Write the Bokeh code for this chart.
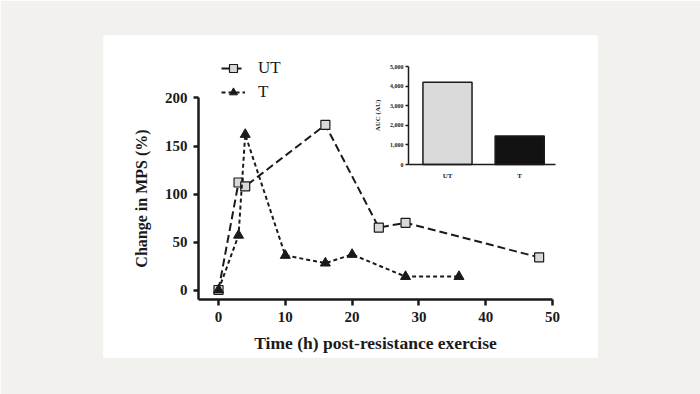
from bokeh.plotting import figure
from bokeh.models import (Range1d, LinearAxis, FixedTicker, NumeralTickFormatter,
                          Legend, LegendItem)
from bokeh.embed import file_html
from bokeh.resources import INLINE

# ---- data ----
ut_time = [0, 3, 4, 16, 24, 28, 48]
ut_mps = [0, 112, 108, 172, 65, 70, 34]
t_time = [0, 3, 4, 10, 16, 20, 28, 36]
t_mps = [0, 57, 162, 36, 28, 37, 14, 14]
auc_groups = ["UT", "T"]
auc_values = [4200, 1450]
x_ticks = [0, 10, 20, 30, 40, 50]
y_ticks = [0, 50, 100, 150, 200]
auc_ticks = [0, 1000, 2000, 3000, 4000, 5000]

FONT = "Liberation Serif"
INK = "#1a1a1a"

p = figure(width=700, height=394,
           x_range=Range1d(-17.216, 56.737), y_range=Range1d(-70.3, 265.1),
           x_axis_type=None, y_axis_type=None,
           output_backend="svg", toolbar_location=None,
           min_border_left=103, min_border_right=103,
           min_border_top=35, min_border_bottom=37,
           background_fill_color="white", border_fill_color="#f2f1ed",
           outline_line_color=None)

p.extra_x_ranges = {"ix": Range1d(-4.765, 2.078)}
p.extra_y_ranges = {"iy": Range1d(-9847, 6582)}

# ---- inset bars ----
auc_x = list(range(len(auc_groups)))
p.vbar(x=auc_x, top=auc_values, width=0.68, bottom=0,
       x_range_name="ix", y_range_name="iy",
       fill_color=["#dadada", "#121212"], line_color=INK, line_width=1.5)

# ---- main series ----
l_ut = p.line(ut_time, ut_mps, line_dash="8 4", line_width=2, line_color=INK)
s_ut = p.scatter(ut_time, ut_mps, marker="square", size=9,
                 fill_color="#d9d9d9", line_color=INK, line_width=1.2)
l_t = p.line(t_time, t_mps, line_dash="4 3", line_width=2, line_color=INK)
s_t = p.scatter(t_time, t_mps, marker="triangle", size=10,
                fill_color=INK, line_color=INK)

def style_main(ax):
    ax.axis_line_width = 2.5
    ax.axis_line_color = INK
    ax.major_tick_line_width = 2.5
    ax.major_tick_line_color = INK
    ax.minor_tick_line_color = None
    ax.major_tick_in = 0
    ax.major_label_text_font = FONT
    ax.major_label_text_font_style = "bold"
    ax.major_label_text_font_size = "15px"
    ax.major_label_text_color = INK
    ax.axis_label_text_font = FONT
    ax.axis_label_text_font_style = "bold"
    ax.axis_label_text_font_size = "16px"
    ax.axis_label_text_color = INK

yax = LinearAxis(fixed_location=-2.99, bounds=(-9.9, 200),
                 ticker=FixedTicker(ticks=y_ticks), axis_label="Change in MPS (%)")
style_main(yax)
yax.major_tick_out = 5
yax.major_label_standoff = 6
yax.axis_label_standoff = 12
p.add_layout(yax, "left")

xax = LinearAxis(fixed_location=-9.9, bounds=(-3, 50),
                 ticker=FixedTicker(ticks=x_ticks),
                 axis_label="Time (h) post-resistance exercise")
style_main(xax)
xax.axis_label_text_font_size = "17.5px"
xax.major_tick_out = 6
xax.major_label_standoff = 6
xax.axis_label_standoff = 8
p.add_layout(xax, "below")

# ---- inset axes ----
def style_inset(ax):
    ax.axis_line_width = 1.5
    ax.axis_line_color = INK
    ax.major_tick_line_width = 1.5
    ax.major_tick_line_color = INK
    ax.minor_tick_line_color = None
    ax.major_tick_in = 0
    ax.major_tick_out = 3
    ax.major_label_text_font = FONT
    ax.major_label_text_font_style = "bold"
    ax.major_label_text_font_size = "6px"
    ax.major_label_text_color = INK
    ax.axis_label_text_font = FONT
    ax.axis_label_text_font_style = "bold"
    ax.axis_label_text_font_size = "7px"
    ax.axis_label_text_color = INK

iy = LinearAxis(x_range_name="ix", y_range_name="iy", fixed_location=-0.54,
                bounds=(0, 5000), ticker=FixedTicker(ticks=auc_ticks),
                formatter=NumeralTickFormatter(format="0,0"), axis_label="AUC (AU)")
style_inset(iy)
iy.major_label_standoff = 2
iy.axis_label_standoff = 5
p.add_layout(iy, "left")

ix = LinearAxis(x_range_name="ix", y_range_name="iy", fixed_location=0,
                bounds=(-0.54, 1.496), ticker=FixedTicker(ticks=auc_x),
                major_label_overrides={i: g for i, g in zip(auc_x, auc_groups)})
style_inset(ix)
ix.major_tick_line_color = None
ix.major_label_text_font_size = "7px"
ix.major_label_standoff = 4
p.add_layout(ix, "below")

# ---- legend ----
legend = Legend(items=[LegendItem(label="UT", renderers=[l_ut, s_ut]),
                       LegendItem(label="T", renderers=[l_t, s_t])],
                location=(118, 255), orientation="vertical",
                glyph_width=24, glyph_height=20, label_height=20,
                label_standoff=13, spacing=4, padding=0, margin=0,
                background_fill_alpha=0, border_line_color=None,
                label_text_font=FONT, label_text_font_size="17px",
                label_text_color=INK)
p.add_layout(legend)

open("out.html", "w").write(file_html(p, INLINE))
